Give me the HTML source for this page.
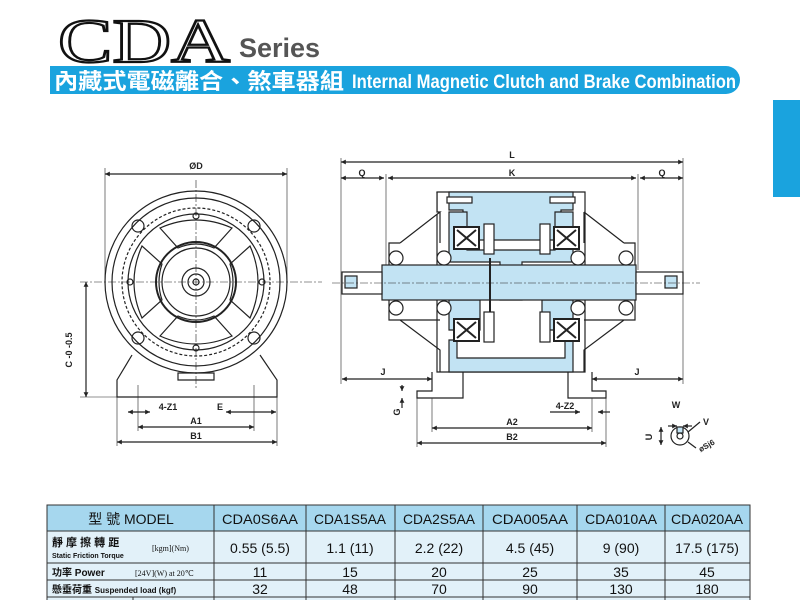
<!DOCTYPE html>
<html><head><meta charset="utf-8"><style>
html,body{margin:0;padding:0;background:#fff;width:800px;height:600px;overflow:hidden;font-family:"Liberation Sans","Noto Sans CJK TC",sans-serif}
</style></head><body>
<svg width="800" height="600" viewBox="0 0 800 600" xmlns="http://www.w3.org/2000/svg" font-family="Liberation Sans, Noto Sans CJK TC, sans-serif">
<defs>
<marker id="a" viewBox="0 0 10 10" refX="10" refY="5" markerWidth="6" markerHeight="4" orient="auto-start-reverse"><path d="M0,0L10,5L0,10z" fill="#222"/></marker>
</defs>
<!-- title -->
<text x="58" y="62" font-family="Liberation Serif, serif" font-size="62" fill="#fff" stroke="#111" stroke-width="2.2" textLength="172" lengthAdjust="spacingAndGlyphs">CDA</text>
<text x="239" y="57" font-size="27" font-weight="bold" fill="#555">Series</text>
<path d="M50,66 H726 A14,14 0 0 1 726,94 H50 Z" fill="#1aa3de"/>
<text x="54" y="89" font-size="22" font-weight="bold" fill="#fff" font-family="Noto Sans CJK TC, sans-serif" textLength="290" lengthAdjust="spacingAndGlyphs">內藏式電磁離合、煞車器組</text>
<text x="352" y="88" font-size="19" font-weight="bold" fill="#fff" textLength="384" lengthAdjust="spacingAndGlyphs">Internal Magnetic Clutch and Brake Combination</text>
<rect x="773" y="100" width="27" height="97" fill="#1aa3de"/>

<g stroke="#222" fill="none" stroke-width="1.2">
<!-- left view -->
<line x1="105" y1="174" x2="287" y2="174" marker-start="url(#a)" marker-end="url(#a)"/>
<line x1="105" y1="168" x2="105" y2="282" stroke-width=".6"/><line x1="287" y1="168" x2="287" y2="282" stroke-width=".6"/>
<path d="M132,355 L117,380 V397 H277 V380 L260,355" fill="#fff"/>
<circle cx="196" cy="282" r="91" fill="#fff"/>
<circle cx="196" cy="282" r="84"/>
<circle cx="196" cy="282" r="74" stroke-dasharray="3,2"/>
<circle cx="196" cy="282" r="68"/>
<circle cx="196" cy="282" r="40" stroke-width="2"/>
<circle cx="196" cy="282" r="34"/>
<circle cx="196" cy="282" r="14"/><circle cx="196" cy="282" r="8"/><circle cx="196" cy="282" r="3"/>
<path d="M160,228 Q196,212 232,228 L214,248 Q196,240 178,248Z"/>
<path d="M160,336 Q196,352 232,336 L214,316 Q196,324 178,316Z"/>
<path d="M142,246 Q126,282 142,318 L162,300 Q156,282 162,264Z"/>
<path d="M250,246 Q266,282 250,318 L230,300 Q236,282 230,264Z"/>
<circle cx="138" cy="226" r="6"/><circle cx="254" cy="226" r="6"/><circle cx="138" cy="338" r="6"/><circle cx="254" cy="338" r="6"/>
<circle cx="196" cy="216" r="3"/><circle cx="196" cy="348" r="3"/><circle cx="130" cy="282" r="3"/><circle cx="262" cy="282" r="3"/>
<path d="M178,373 H214 V380 H178Z"/>
<line x1="196" y1="180" x2="196" y2="390" stroke-dasharray="8,2,2,2" stroke-width=".6"/>
<line x1="80" y1="282" x2="322" y2="282" stroke-dasharray="8,2,2,2" stroke-width=".6"/>
<line x1="86" y1="282" x2="86" y2="397" marker-start="url(#a)" marker-end="url(#a)"/>
<line x1="80" y1="397" x2="117" y2="397" stroke-width=".6"/>
<line x1="128" y1="412" x2="150" y2="412" marker-start="url(#a)" marker-end="url(#a)"/>
<line x1="226" y1="412" x2="276" y2="412" marker-start="url(#a)" marker-end="url(#a)"/>
<line x1="138" y1="427" x2="254" y2="427" marker-start="url(#a)" marker-end="url(#a)"/>
<line x1="117" y1="442" x2="277" y2="442" marker-start="url(#a)" marker-end="url(#a)"/>
<line x1="117" y1="397" x2="117" y2="446" stroke-width=".6"/><line x1="277" y1="397" x2="277" y2="446" stroke-width=".6"/>
<line x1="138" y1="385" x2="138" y2="431" stroke-width=".6"/><line x1="254" y1="385" x2="254" y2="431" stroke-width=".6"/>

<!-- right view -->
<line x1="341" y1="162" x2="683" y2="162" marker-start="url(#a)" marker-end="url(#a)"/>
<line x1="341" y1="178" x2="384" y2="178" marker-start="url(#a)" marker-end="url(#a)"/>
<line x1="388" y1="178" x2="636" y2="178" marker-start="url(#a)" marker-end="url(#a)"/>
<line x1="640" y1="178" x2="683" y2="178" marker-start="url(#a)" marker-end="url(#a)"/>
<line x1="341" y1="158" x2="341" y2="384" stroke-width=".6"/><line x1="683" y1="158" x2="683" y2="384" stroke-width=".6"/>
<line x1="386" y1="174" x2="386" y2="270" stroke-width=".6"/><line x1="638" y1="174" x2="638" y2="270" stroke-width=".6"/>
<path d="M437,192 H585 V372 H437Z" fill="#fff"/>
<path d="M449,192 H573 V210 H561 V240 H463 V210 H449Z" fill="#c2e3f3"/>
<path d="M449,212 V262 H500 V300 H522 V262 H573 V212 H555 V250 H467 V212Z" fill="#c2e3f3"/>
<path d="M449,300 H480 V330 H449Z M542,300 H573 V330 H542Z" fill="#c2e3f3"/>
<path d="M449,340 V372 H573 V340 H565 V358 H457 V340Z" fill="#c2e3f3"/>
<path d="M400,243 L440,212 H437 V192 M440,212 V243 M400,243 H389 V266" fill="#fff"/>
<path d="M624,243 L584,212 M584,212 V243 M624,243 H635 V266"/>
<path d="M389,300 V320 H400 L440,350 V372 M389,320 H440"/>
<path d="M635,300 V320 H624 L584,350 V372 M635,320 H584"/>
<rect x="382" y="265" width="254" height="35" fill="#c2e3f3"/>
<rect x="342" y="272" width="40" height="22" fill="#fff"/>
<rect x="636" y="272" width="47" height="22" fill="#fff"/>
<rect x="345" y="276" width="12" height="12" fill="#c2e3f3"/><rect x="665" y="276" width="12" height="12" fill="#c2e3f3"/>
<line x1="490" y1="258" x2="490" y2="312" stroke-width="2"/>
<g stroke-width="2">
<rect x="454" y="227" width="25" height="22" fill="#fff"/><path d="M457,230 L476,246 M476,230 L457,246"/>
<rect x="554" y="227" width="25" height="22" fill="#fff"/><path d="M557,230 L576,246 M576,230 L557,246"/>
<rect x="454" y="319" width="25" height="22" fill="#fff"/><path d="M457,322 L476,338 M476,322 L457,338"/>
<rect x="554" y="319" width="25" height="22" fill="#fff"/><path d="M557,322 L576,338 M576,322 L557,338"/>
</g>
<rect x="484" y="224" width="10" height="30" fill="#fff"/><rect x="484" y="312" width="10" height="30" fill="#fff"/>
<rect x="540" y="224" width="10" height="30" fill="#fff"/><rect x="540" y="312" width="10" height="30" fill="#fff"/>
<circle cx="396" cy="258" r="7" fill="#fff"/><circle cx="444" cy="258" r="7" fill="#fff"/><circle cx="578" cy="258" r="7" fill="#fff"/><circle cx="626" cy="258" r="7" fill="#fff"/>
<circle cx="396" cy="308" r="7" fill="#fff"/><circle cx="444" cy="308" r="7" fill="#fff"/><circle cx="578" cy="308" r="7" fill="#fff"/><circle cx="626" cy="308" r="7" fill="#fff"/>
<rect x="447" y="197" width="25" height="6" fill="#fff"/><rect x="550" y="197" width="25" height="6" fill="#fff"/>
<line x1="332" y1="283" x2="700" y2="283" stroke-dasharray="8,2,2,2" stroke-width=".6"/>
<path d="M432,372 V391 H417 V398 H463 V372 M592,372 V391 H606 V398 H568 V372"/>
<line x1="342" y1="379" x2="432" y2="379" marker-start="url(#a)" marker-end="url(#a)"/>
<line x1="592" y1="379" x2="683" y2="379" marker-start="url(#a)" marker-end="url(#a)"/>
<line x1="432" y1="398" x2="432" y2="432" stroke-width=".6"/><line x1="592" y1="398" x2="592" y2="432" stroke-width=".6"/>
<line x1="417" y1="398" x2="417" y2="447" stroke-width=".6"/><line x1="606" y1="398" x2="606" y2="447" stroke-width=".6"/>
<line x1="432" y1="428" x2="592" y2="428" marker-start="url(#a)" marker-end="url(#a)"/>
<line x1="417" y1="443" x2="606" y2="443" marker-start="url(#a)" marker-end="url(#a)"/>
<line x1="402" y1="385" x2="402" y2="391" marker-end="url(#a)"/><line x1="402" y1="408" x2="402" y2="398" marker-end="url(#a)"/>
<line x1="550" y1="412" x2="580" y2="412" marker-end="url(#a)"/>
<line x1="610" y1="412" x2="598" y2="412" marker-end="url(#a)"/>
<!-- shaft end -->
<circle cx="680" cy="436" r="9" fill="#fff"/><circle cx="680" cy="436" r="3"/>
<rect x="677" y="427" width="6" height="6" fill="#c2e3f3"/>
<line x1="668" y1="426" x2="677" y2="426" marker-end="url(#a)"/><line x1="692" y1="426" x2="683" y2="426" marker-end="url(#a)"/>
<line x1="661" y1="427" x2="661" y2="445" marker-start="url(#a)" marker-end="url(#a)"/>
<line x1="688" y1="432" x2="700" y2="422"/><line x1="688" y1="442" x2="696" y2="448"/>
</g>
<g font-size="9" font-weight="bold" fill="#222" text-anchor="middle">
<text x="196" y="169">ØD</text>
<text x="512" y="158">L</text><text x="362" y="176">Q</text><text x="512" y="176">K</text><text x="662" y="176">Q</text>
<text x="383" y="375">J</text><text x="637" y="375">J</text>
<text x="512" y="425">A2</text><text x="512" y="440">B2</text><text x="565" y="409">4-Z2</text>
<text x="168" y="410">4-Z1</text><text x="220" y="410">E</text>
<text x="196" y="424">A1</text><text x="196" y="439">B1</text>
<text x="676" y="408">W</text><text x="706" y="425">V</text>
<text x="72" y="350" transform="rotate(-90 72 350)">C -0 -0.5</text>
<text x="400" y="412" transform="rotate(-90 400 412)">G</text>
<text x="652" y="437" transform="rotate(-90 652 437)">U</text>
<text x="708" y="448" transform="rotate(-30 708 448)" font-size="8">øSj6</text>
</g>

<!-- table -->
<g>
<rect x="47" y="505" width="703" height="26" fill="#a6d7ee"/>
<rect x="47" y="531" width="703" height="70" fill="#e2f1f9"/>
<g stroke="#333" stroke-width="1">
<rect x="47" y="505" width="703" height="100" fill="none"/>
<line x1="47" y1="531" x2="750" y2="531"/><line x1="47" y1="563" x2="750" y2="563"/>
<line x1="47" y1="580" x2="750" y2="580"/><line x1="47" y1="597" x2="750" y2="597"/>
<line x1="214" y1="505" x2="214" y2="600"/><line x1="306" y1="505" x2="306" y2="600"/>
<line x1="395" y1="505" x2="395" y2="600"/><line x1="483" y1="505" x2="483" y2="600"/>
<line x1="577" y1="505" x2="577" y2="600"/><line x1="665" y1="505" x2="665" y2="600"/>
<line x1="133" y1="597" x2="133" y2="600"/>
</g>
<g fill="#111" font-size="14" text-anchor="middle">
<text x="131" y="524">型 號 MODEL</text>
<g font-size="14">
<text x="260" y="524" textLength="76" lengthAdjust="spacingAndGlyphs">CDA0S6AA</text><text x="350" y="524" textLength="72" lengthAdjust="spacingAndGlyphs">CDA1S5AA</text><text x="439" y="524" textLength="72" lengthAdjust="spacingAndGlyphs">CDA2S5AA</text>
<text x="530" y="524" textLength="76" lengthAdjust="spacingAndGlyphs">CDA005AA</text><text x="621" y="524" textLength="72" lengthAdjust="spacingAndGlyphs">CDA010AA</text><text x="707" y="524" textLength="72" lengthAdjust="spacingAndGlyphs">CDA020AA</text>
<text x="260" y="553">0.55 (5.5)</text><text x="350" y="553">1.1 (11)</text><text x="439" y="553">2.2 (22)</text>
<text x="530" y="553">4.5 (45)</text><text x="621" y="553">9 (90)</text><text x="707" y="553">17.5 (175)</text>
<text x="260" y="577">11</text><text x="350" y="577">15</text><text x="439" y="577">20</text>
<text x="530" y="577">25</text><text x="621" y="577">35</text><text x="707" y="577">45</text>
<text x="260" y="594">32</text><text x="350" y="594">48</text><text x="439" y="594">70</text>
<text x="530" y="594">90</text><text x="621" y="594">130</text><text x="707" y="594">180</text>
</g>
</g>
<g fill="#111" font-size="8" font-weight="bold">
<text x="52" y="546" font-size="11">靜 摩 擦 轉 距</text>
<text x="52" y="558" font-size="7">Static Friction Torque</text>
<text x="152" y="551" font-weight="normal" font-family="Liberation Serif, serif">[kgm](Nm)</text>
<text x="52" y="576" font-size="10">功率 Power</text>
<text x="135" y="576" font-weight="normal" font-family="Liberation Serif, serif">[24V](W) at 20℃</text>
<text x="52" y="593" font-size="10">懸垂荷重 <tspan font-size="8">Suspended load (kgf)</tspan></text>
</g>
</g>
</svg>
</body></html>
